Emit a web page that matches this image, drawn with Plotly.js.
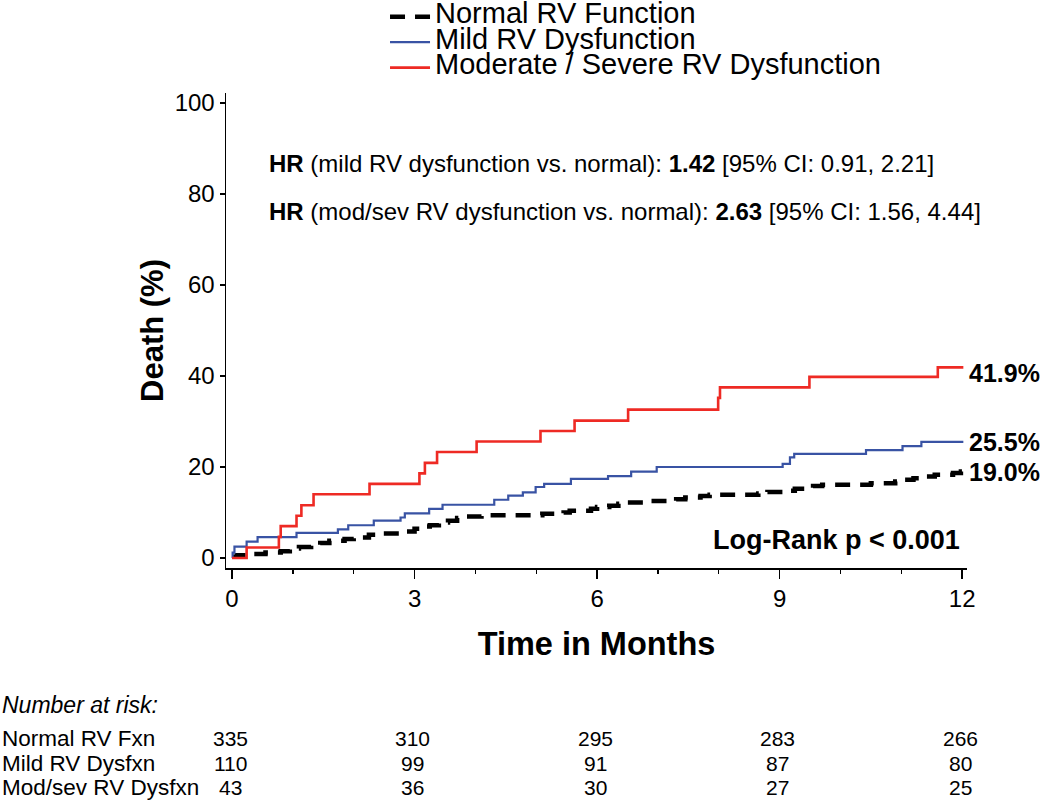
<!DOCTYPE html>
<html>
<head>
<meta charset="utf-8">
<script src="https://cdn.plot.ly/plotly-3.0.1.min.js"></script>
<style>body{margin:0;background:#fff}#chart{width:1050px;height:805px}</style>
</head>
<body>
<div id="chart"></div>
<script>
// ---- Data ----
const seriesNames = ["Normal RV Function", "Mild RV Dysfunction", "Moderate / Severe RV Dysfunction"];

const normalTime = [0, 0.08, 0.35, 0.55, 0.8, 0.95, 1.1, 1.3, 1.45, 1.6, 1.85, 2.0, 2.25, 2.45, 2.8, 3.0, 3.1, 3.25, 3.4, 3.55, 3.7, 3.85, 4.1, 5.1, 5.45, 5.55, 5.9, 6.0, 6.2, 6.35, 6.5, 6.85, 7.3, 7.45, 7.7, 7.85, 8.65, 8.8, 9.1, 9.25, 9.55, 9.7, 10.5, 10.9, 11.0, 11.2, 11.35, 11.55, 11.85, 11.98, 12.0];
const normalPct  = [0.3, 0.6, 0.9, 1.2, 1.5, 2.1, 2.4, 2.7, 3.3, 3.8, 4.2, 4.5, 5.1, 5.4, 5.8, 6.4, 6.9, 7.2, 7.8, 8.2, 8.8, 9.1, 9.4, 9.7, 10.0, 10.4, 10.8, 11.2, 11.5, 11.9, 12.2, 12.5, 12.9, 13.3, 13.6, 13.9, 14.2, 14.5, 14.8, 15.2, 15.8, 16.1, 16.4, 16.8, 17.2, 17.5, 17.9, 18.3, 18.7, 19.0, 19.0];

const mildTime = [0, 0.01, 0.04, 0.24, 0.42, 1.06, 1.74, 1.91, 2.33, 2.77, 2.84, 3.24, 3.46, 4.31, 4.54, 4.78, 4.99, 5.13, 5.57, 6.18, 6.56, 6.98, 9.05, 9.17, 9.24, 10.42, 11.02, 11.33, 12.02];
const mildPct  = [0, 1.2, 2.5, 3.6, 4.6, 5.5, 6.3, 7.2, 8.2, 8.9, 9.8, 10.8, 11.7, 12.8, 13.7, 14.4, 15.6, 16.3, 17.4, 18.0, 19.0, 20.0, 20.7, 22.1, 22.9, 23.7, 24.6, 25.5, 25.5];

const modsevTime = [0, 0.24, 0.77, 0.80, 1.06, 1.14, 1.34, 2.26, 3.08, 3.17, 3.37, 4.02, 5.07, 5.63, 6.51, 7.99, 8.02, 9.49, 11.6, 12.02];
const modsevPct  = [0, 2.3, 4.65, 7.0, 9.3, 11.6, 14.0, 16.3, 18.6, 20.9, 23.3, 25.6, 27.9, 30.2, 32.6, 35.2, 37.5, 39.8, 41.9, 41.9];

const finalLabels = ["19.0%", "25.5%", "41.9%"];
const finalValues = [19.0, 25.5, 41.9];

const riskTimes  = [0, 3, 6, 9, 12];
const riskGroups = ["Normal RV Fxn", "Mild RV Dysfxn", "Mod/sev RV Dysfxn"];
const riskNormal = [335, 310, 295, 283, 266];
const riskMild   = [110, 99, 91, 87, 80];
const riskModsev = [43, 36, 30, 27, 25];

const xTicks = [0, 3, 6, 9, 12];
const yTicks = [0, 20, 40, 60, 80, 100];

// ---- Styling ----
const FONT = "Liberation Sans, Arial, Helvetica, sans-serif";
const colors = ["#000000", "#3953a4", "#ee2a24"];
const legendName = s => '<span style="font-size:29px">' + s + '</span>';

const traces = [
  {x: normalTime, y: normalPct, name: legendName(seriesNames[0]), mode: "lines",
   line: {shape: "hv", color: colors[0], width: 4.5, dash: "15px,10px"}},
  {x: mildTime, y: mildPct, name: legendName(seriesNames[1]), mode: "lines",
   line: {shape: "hv", color: colors[1], width: 2.2}},
  {x: modsevTime, y: modsevPct, name: legendName(seriesNames[2]), mode: "lines",
   line: {shape: "hv", color: colors[2], width: 2.6}}
];

const PLOT_H = 475;
function py(px) { return (568 - px) / PLOT_H; }

const annotations = [];
annotations.push({xref: "paper", yref: "paper", x: 0.055, y: py(163), xanchor: "left", yanchor: "middle",
  text: "<b>HR</b> (mild RV dysfunction vs. normal): <b>1.42</b> [95% CI: 0.91, 2.21]",
  showarrow: false, font: {family: FONT, size: 24, color: "#000"}});
annotations.push({xref: "paper", yref: "paper", x: 0.055, y: py(211), xanchor: "left", yanchor: "middle",
  text: "<b>HR</b> (mod/sev RV dysfunction vs. normal): <b>2.63</b> [95% CI: 1.56, 4.44]",
  showarrow: false, font: {family: FONT, size: 24, color: "#000"}});
annotations.push({xref: "x", yref: "paper", x: 12, y: py(540), xanchor: "right", yanchor: "middle",
  text: "<b>Log-Rank p < 0.001</b>", showarrow: false, font: {family: FONT, size: 27, color: "#000"}});

const labelShift = [0, 0, -6];
finalLabels.forEach((t, i) => {
  annotations.push({xref: "x", yref: "y", x: 12.08, y: finalValues[i], xanchor: "left", yanchor: "middle",
    yshift: labelShift[i], text: "<b>" + t + "</b>", showarrow: false,
    font: {family: FONT, size: 25, color: "#000"}});
});

annotations.push({xref: "paper", yref: "paper", x: -226 / 741, y: py(705), xanchor: "left", yanchor: "middle",
  text: "<i>Number at risk:</i>", showarrow: false, font: {family: FONT, size: 23, color: "#000"}});
const riskRows = [riskNormal, riskMild, riskModsev];
const rowY = [739, 763, 787];
riskRows.forEach((row, r) => {
  annotations.push({xref: "paper", yref: "paper", x: -226 / 741, y: py(rowY[r]), xanchor: "left", yanchor: "middle",
    text: riskGroups[r], showarrow: false, font: {family: FONT, size: 22.5, color: "#000"}});
  row.forEach((n, k) => {
    annotations.push({xref: "x", yref: "paper", x: riskTimes[k], y: py(rowY[r]), xanchor: "center", yanchor: "middle",
      xshift: -2, text: String(n), showarrow: false, font: {family: FONT, size: 21, color: "#000"}});
  });
});

const layout = {
  width: 1050, height: 805,
  margin: {l: 226, r: 83, t: 93, b: 237, pad: 0, autoexpand: false},
  paper_bgcolor: "#fff", plot_bgcolor: "#fff",
  font: {family: FONT, color: "#000"},
  showlegend: true,
  legend: {x: 0.2146, y: 1.198, xanchor: "left", yanchor: "top", bgcolor: "rgba(0,0,0,0)",
           itemwidth: 40, font: {family: FONT, size: 17.3, color: "#000"}, tracegroupgap: 0},
  xaxis: {range: [-0.099, 12.08], tickvals: xTicks, ticktext: xTicks.map(String),
          ticks: "outside", ticklen: 9, tickwidth: 1.3, tickcolor: "#000",
          minor: {tickvals: [1,2,4,5,7,8,10,11], ticks: "outside", ticklen: 4, tickwidth: 1.3, tickcolor: "#000", showgrid: false},
          showline: true, linecolor: "#000", linewidth: 1.5, showgrid: false, zeroline: false,
          tickfont: {family: FONT, size: 24, color: "#000"},
          title: {text: "<b>Time in Months</b>", font: {family: FONT, size: 32.5, color: "#000"}, standoff: 21}},
  yaxis: {range: [-2.2, 102.2], tickvals: yTicks, ticktext: yTicks.map(String),
          ticks: "outside", ticklen: 5, tickwidth: 1.3, tickcolor: "#000",
          showline: true, linecolor: "#000", linewidth: 1.5, showgrid: false, zeroline: false,
          tickfont: {family: FONT, size: 24, color: "#000"},
          title: {text: "<b>Death (%)</b>", font: {family: FONT, size: 31, color: "#000"}, standoff: 2}},
  annotations: annotations
};

Plotly.newPlot("chart", traces, layout, {displayModeBar: false, staticPlot: true});
</script>
</body>
</html>
